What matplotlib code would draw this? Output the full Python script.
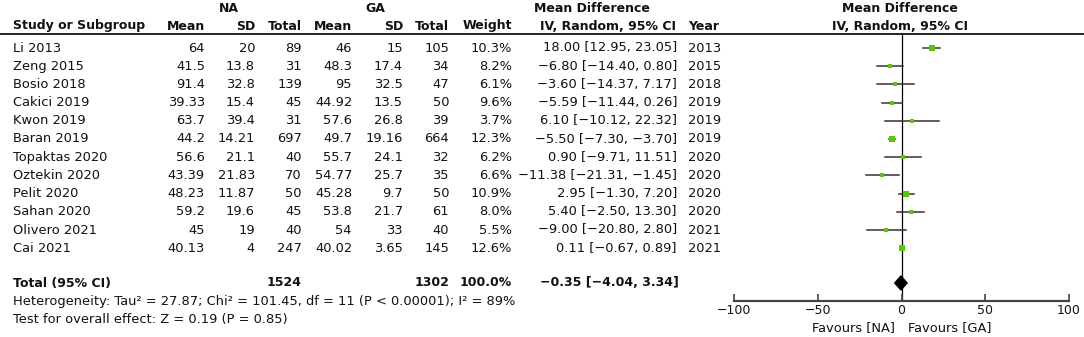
import matplotlib.pyplot as plt
from matplotlib.patches import Polygon
from matplotlib.transforms import blended_transform_factory

# study data (NA vs GA)
studies = ['Li 2013', 'Zeng 2015', 'Bosio 2018', 'Cakici 2019', 'Kwon 2019', 'Baran 2019',
           'Topaktas 2020', 'Oztekin 2020', 'Pelit 2020', 'Sahan 2020', 'Olivero 2021', 'Cai 2021']
na_mean = [64, 41.5, 91.4, 39.33, 63.7, 44.2, 56.6, 43.39, 48.23, 59.2, 45, 40.13]
na_sd = [20, 13.8, 32.8, 15.4, 39.4, 14.21, 21.1, 21.83, 11.87, 19.6, 19, 4]
na_total = [89, 31, 139, 45, 31, 697, 40, 70, 50, 45, 40, 247]
ga_mean = [46, 48.3, 95, 44.92, 57.6, 49.7, 55.7, 54.77, 45.28, 53.8, 54, 40.02]
ga_sd = [15, 17.4, 32.5, 13.5, 26.8, 19.16, 24.1, 25.7, 9.7, 21.7, 33, 3.65]
ga_total = [105, 34, 47, 50, 39, 664, 32, 35, 50, 61, 40, 145]
weights = [10.3, 8.2, 6.1, 9.6, 3.7, 12.3, 6.2, 6.6, 10.9, 8.0, 5.5, 12.6]
md = [18.00, -6.80, -3.60, -5.59, 6.10, -5.50, 0.90, -11.38, 2.95, 5.40, -9.00, 0.11]
ci_lo = [12.95, -14.40, -14.37, -11.44, -10.12, -7.30, -9.71, -21.31, -1.30, -2.50, -20.80, -0.67]
ci_hi = [23.05, 0.80, 7.17, 0.26, 22.32, -3.70, 11.51, -1.45, 7.20, 13.30, 2.80, 0.89]
years = [2013, 2015, 2018, 2019, 2019, 2019, 2020, 2020, 2020, 2020, 2021, 2021]

total_na, total_ga, total_weight = 1524, 1302, 100.0
total_md, total_lo, total_hi = -0.35, -4.04, 3.34
heterogeneity = 'Heterogeneity: Tau\u00b2 = 27.87; Chi\u00b2 = 101.45, df = 11 (P < 0.00001); I\u00b2 = 89%'
overall = 'Test for overall effect: Z = 0.19 (P = 0.85)'
xticks = [-100, -50, 0, 50, 100]

FS = 9.4     # regular text
FB = 9.0     # bold text
TXT = '#111111'
GREEN = '#5cc800'


def num(v):
    return '{:g}'.format(v).replace('-', '\u2212')


def ci_str(m, lo, hi):
    return '{:.2f} [{:.2f}, {:.2f}]'.format(m, lo, hi).replace('-', '\u2212')


plt.rcParams['font.family'] = 'DejaVu Sans'
fig = plt.figure(figsize=(10.84, 3.37), dpi=100)

# table axes in pixel coordinates
tab = fig.add_axes([0, 0, 1, 1])
tab.set_xlim(0, 1084)
tab.set_ylim(337, 0)
tab.axis('off')

row0, step = 48, 18.2
row_y = [row0 + step * i for i in range(len(studies))]
total_y = 283

# headers
hdr = dict(fontsize=FB, fontweight='bold', color=TXT, va='center')
tab.text(229, 8, 'NA', ha='center', **hdr)
tab.text(375, 8, 'GA', ha='center', **hdr)
tab.text(592, 8, 'Mean Difference', ha='center', **hdr)
tab.text(900, 8, 'Mean Difference', ha='center', **hdr)
tab.text(13, 26, 'Study or Subgroup', ha='left', **hdr)
for x, lab in [(205, 'Mean'), (255, 'SD'), (302, 'Total'), (352, 'Mean'), (403, 'SD'),
               (449, 'Total'), (512, 'Weight')]:
    tab.text(x, 26, lab, ha='right', **hdr)
tab.text(608, 26, 'IV, Random, 95% CI', ha='center', **hdr)
tab.text(688, 26, 'Year', ha='left', **hdr)
tab.text(900, 26, 'IV, Random, 95% CI', ha='center', **hdr)
tab.plot([0, 1084], [34, 34], color='#222222', lw=1.4)

# study rows
reg = dict(fontsize=FS, color=TXT, va='center')
for i, y in enumerate(row_y):
    tab.text(13, y, studies[i], ha='left', **reg)
    tab.text(205, y, num(na_mean[i]), ha='right', **reg)
    tab.text(255, y, num(na_sd[i]), ha='right', **reg)
    tab.text(302, y, num(na_total[i]), ha='right', **reg)
    tab.text(352, y, num(ga_mean[i]), ha='right', **reg)
    tab.text(403, y, num(ga_sd[i]), ha='right', **reg)
    tab.text(449, y, num(ga_total[i]), ha='right', **reg)
    tab.text(512, y, '{:.1f}%'.format(weights[i]), ha='right', **reg)
    tab.text(677, y, ci_str(md[i], ci_lo[i], ci_hi[i]), ha='right', **reg)
    tab.text(688, y, str(years[i]), ha='left', **reg)

# total row
tab.text(13, total_y, 'Total (95% CI)', ha='left', **hdr)
tab.text(302, total_y, str(total_na), ha='right', **hdr)
tab.text(449, total_y, str(total_ga), ha='right', **hdr)
tab.text(512, total_y, '{:.1f}%'.format(total_weight), ha='right', **hdr)
tab.text(679, total_y, ci_str(total_md, total_lo, total_hi), ha='right', **hdr)
tab.text(13, 301, heterogeneity, ha='left', **reg)
tab.text(13, 320, overall, ha='left', **reg)

# forest plot axes
W, H = 1084, 337
ax = fig.add_axes([734 / W, (H - 301) / H, 335 / W, (301 - 34) / H])
ax.set_xlim(-100, 100)
ax.set_ylim(301, 34)
ax.patch.set_alpha(0)
for s in ['top', 'right', 'left']:
    ax.spines[s].set_visible(False)
ax.spines['bottom'].set_color('#444444')
ax.spines['bottom'].set_linewidth(1.6)
ax.set_yticks([])
ax.set_xticks(xticks)
ax.tick_params(axis='x', direction='in', length=5, width=1.2, color='#444444',
               labelsize=9.0, labelcolor=TXT, pad=2)
ax.axvline(0, color='black', lw=0.9, zorder=1)

for i, y in enumerate(row_y):
    ax.plot([ci_lo[i], ci_hi[i]], [y, y], color='#333333', lw=1.1, zorder=2)
    ax.plot(md[i], y, marker='s', color=GREEN, markersize=1.15 * weights[i] ** 0.5,
            markeredgewidth=0, zorder=3)

diamond = Polygon([(total_lo, total_y), (total_md, total_y - 7), (total_hi, total_y),
                   (total_md, total_y + 7)], closed=True, color='black', zorder=4)
ax.add_patch(diamond)

# favours labels: x in effect units, y in pixel rows
fav = blended_transform_factory(ax.transData, tab.transData)
ax.text(-4, 328, 'Favours [NA]', transform=fav, ha='right', va='center', fontsize=FS, color=TXT)
ax.text(4, 328, 'Favours [GA]', transform=fav, ha='left', va='center', fontsize=FS, color=TXT)

fig.savefig('out.png', dpi=100)
